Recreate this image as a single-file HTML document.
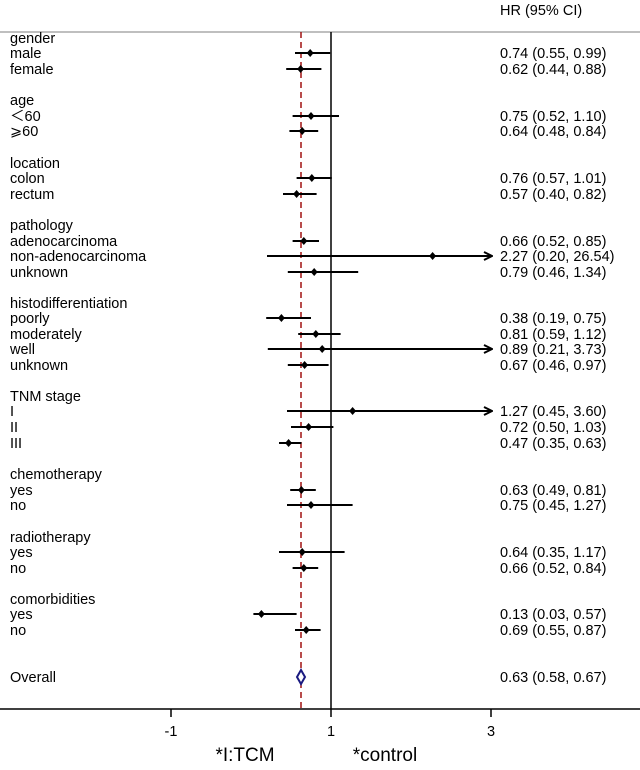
<!DOCTYPE html>
<html><head><meta charset="utf-8"><style>
body{margin:0;background:#fff}
text{font-family:"Liberation Sans",Arial,sans-serif;font-size:14.5px;fill:#000}
</style></head><body>
<svg width="640" height="765" xmlns="http://www.w3.org/2000/svg">
<defs><marker id="ar" markerWidth="10" markerHeight="10" refX="9" refY="5" orient="auto" markerUnits="userSpaceOnUse"><path d="M1,1 L9,5 L1,9" fill="none" stroke="#000" stroke-width="2"/></marker></defs>
<line x1="0" y1="32" x2="640" y2="32" stroke="#aaa" stroke-width="1.5"/>
<text x="500" y="15">HR (95% CI)</text>
<line x1="301" y1="32" x2="301" y2="709" stroke="#a01010" stroke-width="1.5" stroke-dasharray="6,4"/>
<line x1="331" y1="32" x2="331" y2="709" stroke="#000" stroke-width="1.5"/>
<line x1="0" y1="709" x2="640" y2="709" stroke="#000" stroke-width="1.5"/>
<g stroke="#000" stroke-width="1.5"><line x1="171" y1="709" x2="171" y2="717"/><line x1="331" y1="709" x2="331" y2="717"/><line x1="491" y1="709" x2="491" y2="717"/></g>
<g text-anchor="middle"><text x="171" y="736">-1</text><text x="331" y="736">1</text><text x="491" y="736">3</text></g>
<text x="245" y="761" style="font-size:19px" text-anchor="middle">*I:TCM</text>
<text x="385" y="761" style="font-size:19px" text-anchor="middle">*control</text>
<g id="rows"></g>
<path d="M301,670 L305,677 L301,684 L297,677Z" fill="#fff" stroke="#1a1a80" stroke-width="2"/>
<text x="10" y="682">Overall</text><text x="500" y="682">0.63 (0.58, 0.67)</text>
</svg>
<script>
var R=[["gender",38],["male",53,.74,.55,.99],["female",69,.62,.44,.88],["age",100],["＜60",116,.75,.52,1.10],["⩾60",131,.64,.48,.84],
["location",163],["colon",178,.76,.57,1.01],["rectum",194,.57,.40,.82],["pathology",225],["adenocarcinoma",241,.66,.52,.85],["non-adenocarcinoma",256,2.27,.20,26.54],["unknown",272,.79,.46,1.34],
["histodifferentiation",303],["poorly",318,.38,.19,.75],["moderately",334,.81,.59,1.12],["well",349,.89,.21,3.73],["unknown",365,.67,.46,.97],
["TNM stage",396],["I",411,1.27,.45,3.60],["II",427,.72,.50,1.03],["III",443,.47,.35,.63],["chemotherapy",474],["yes",490,.63,.49,.81],["no",505,.75,.45,1.27],
["radiotherapy",537],["yes",552,.64,.35,1.17],["no",568,.66,.52,.84],["comorbidities",599],["yes",614,.13,.03,.57],["no",630,.69,.55,.87]];
var g=document.getElementById("rows"),s="";function X(v){return 331+80*(v-1)}
function f(v){return v.toFixed(2)}
R.forEach(function(r){var y=r[1];s+='<text x="10" y="'+(y+5)+'">'+r[0]+'</text>';
if(r.length>2){var a=X(r[3]),b=r[4]>3?492:X(r[4]),m=X(r[2]);
s+='<line x1="'+a+'" y1="'+y+'" x2="'+b+'" y2="'+y+'" stroke="#000" stroke-width="2"'+(r[4]>3?' marker-end="url(#ar)"':'')+'/>';
s+='<path d="M'+m+','+(y-4)+' L'+(m+3.5)+','+y+' L'+m+','+(y+4)+' L'+(m-3.5)+','+y+'Z"/>';
s+='<text x="500" y="'+(y+5)+'">'+f(r[2])+' ('+f(r[3])+', '+f(r[4])+')</text>';}});
g.innerHTML=s;
</script>
</body></html>
